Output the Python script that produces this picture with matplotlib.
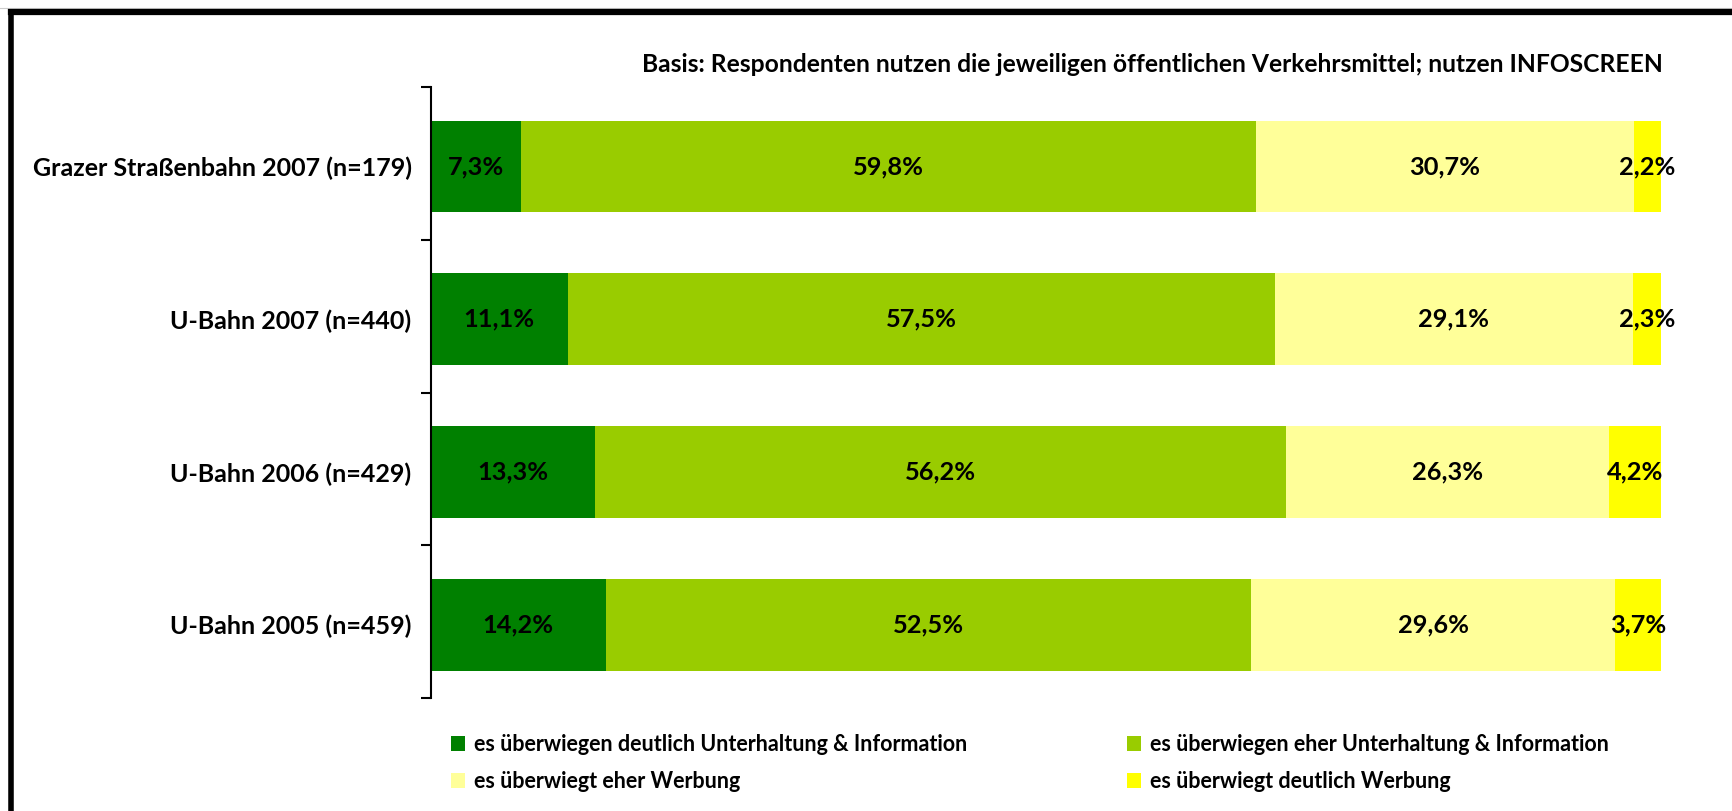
import matplotlib
matplotlib.use("Agg")
import matplotlib.pyplot as plt
from matplotlib.patches import Patch
from matplotlib.lines import Line2D
import numpy as np

plt.rcParams["font.family"] = ["Lato", "DejaVu Sans"]
plt.rcParams["font.weight"] = "bold"

CATEGORIES = ["Grazer Straßenbahn 2007 (n=179)", "U-Bahn 2007 (n=440)",
              "U-Bahn 2006 (n=429)", "U-Bahn 2005 (n=459)"]
SERIES = ["es überwiegen deutlich Unterhaltung & Information",
          "es überwiegen eher Unterhaltung & Information",
          "es überwiegt eher Werbung",
          "es überwiegt deutlich Werbung"]
DEUTLICH_UNTERHALTUNG = [7.3, 11.1, 13.3, 14.2]
EHER_UNTERHALTUNG = [59.8, 57.5, 56.2, 52.5]
EHER_WERBUNG = [30.7, 29.1, 26.3, 29.6]
DEUTLICH_WERBUNG = [2.2, 2.3, 4.2, 3.7]
COLORS = ["#008000", "#99CC00", "#FFFF99", "#FFFF00"]
TITLE = "Basis: Respondenten nutzen die jeweiligen öffentlichen Verkehrsmittel; nutzen INFOSCREEN"

W, H = 1733, 811
fig = plt.figure(figsize=(W / 100, H / 100), dpi=100)
ax = fig.add_axes([431 / W, 113 / H, 1230 / W, 611 / H])

values = [DEUTLICH_UNTERHALTUNG, EHER_UNTERHALTUNG, EHER_WERBUNG, DEUTLICH_WERBUNG]
y = np.arange(len(CATEGORIES))
ybar = y + 0.02  # bars sit a touch below the row centre in the original
left = np.zeros(len(CATEGORIES))
for vals, color in zip(values, COLORS):
    vals = np.array(vals)
    ax.barh(ybar, vals, left=left, height=0.6, color=color, edgecolor="none")
    for yi, l, v in zip(ybar, left, vals):
        ax.text(l + v / 2, yi, f"{v:.1f}%".replace(".", ","), ha="center",
                va="center", fontsize=18.3, fontweight="bold")
    left += vals

ax.set_xlim(0, 100)
ax.set_ylim(len(CATEGORIES) - 0.5, -0.5)
ax.set_xticks([])
ax.set_yticks(np.arange(len(CATEGORIES) + 1) - 0.5)
ax.set_yticklabels([])
ax.tick_params(axis="y", which="major", length=7, width=1.5)
ax.set_yticks(ybar, minor=True)
ax.set_yticklabels(CATEGORIES, minor=True, fontsize=18, fontweight="bold")
ax.tick_params(axis="y", which="minor", length=0, pad=14)
for side in ["top", "right", "bottom"]:
    ax.spines[side].set_visible(False)
ax.spines["left"].set_linewidth(1.5)

fig.text(1663 / W, 1 - 64 / H, TITLE, ha="right", va="center",
         fontsize=17.7, fontweight="bold")

# legend in two columns, placed separately
handles = [Patch(facecolor=c, edgecolor="none") for c in COLORS]
leg_kw = dict(frameon=False, handlelength=0.65, handleheight=0.65,
              handletextpad=0.42, labelspacing=0.75, borderpad=0, borderaxespad=0,
              loc="upper left", prop={"weight": "bold", "size": 15.5,
                                      "family": ["Lato", "DejaVu Sans"]})
fig.legend([handles[0], handles[2]], [SERIES[0], SERIES[2]],
           bbox_to_anchor=(451 / W, 1 - 734 / H), **leg_kw)
fig.legend([handles[1], handles[3]], [SERIES[1], SERIES[3]],
           bbox_to_anchor=(1127 / W, 1 - 734 / H), **leg_kw)

# outer frame
fig.add_artist(Line2D([0, 1], [1 - 8 / H, 1 - 8 / H], transform=fig.transFigure,
                      color="#cccccc", linewidth=0.8))
fig.add_artist(Line2D([11.5 / W, 1], [1 - 12 / H, 1 - 12 / H], transform=fig.transFigure,
                      color="black", linewidth=4.5, solid_capstyle="projecting"))
fig.add_artist(Line2D([11.5 / W, 11.5 / W], [0, 1 - 12 / H], transform=fig.transFigure,
                      color="black", linewidth=4.0, solid_capstyle="projecting"))

fig.savefig("out.png", dpi=100)
